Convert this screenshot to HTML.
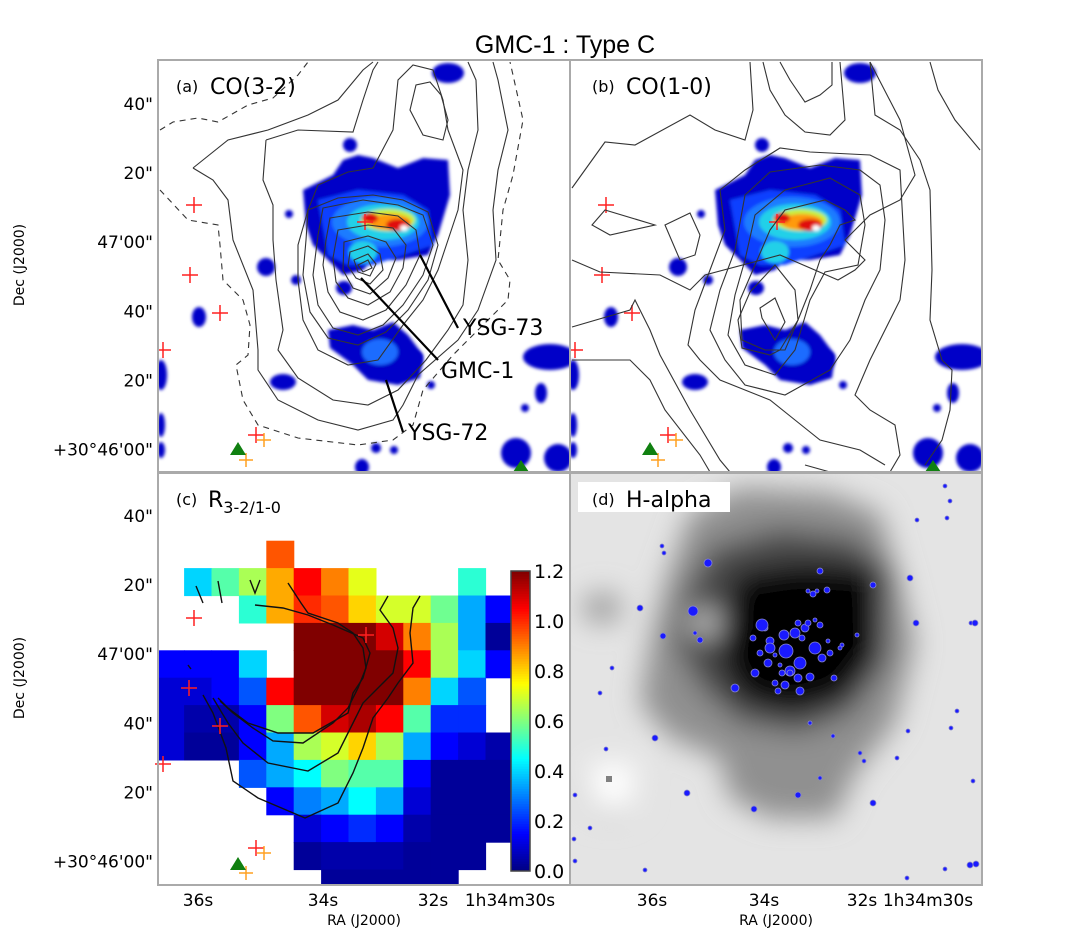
<!DOCTYPE html>
<html><head><meta charset="utf-8"><style>
html,body{margin:0;padding:0;background:#fff;}
svg{display:block;font-family:"DejaVu Sans","Liberation Sans",sans-serif;}
</style></head><body>
<svg id="fig" width="1066" height="939" viewBox="0 0 1066 939" xmlns="http://www.w3.org/2000/svg">
<defs>
 <filter id="bl" x="-20%" y="-20%" width="140%" height="140%"><feGaussianBlur stdDeviation="1.5"/></filter>
 <filter id="bl2" x="-30%" y="-30%" width="160%" height="160%"><feGaussianBlur stdDeviation="14"/></filter>
 <clipPath id="clipA"><rect x="0" y="0" width="412" height="412"/></clipPath>
 <g id="blobs">
  <g filter="url(#bl)">
   <path d="M145,130 L165,120 L175,115 L185,100 L200,95 L215,98 L240,108 L265,98 L290,100 L292,135 L280,175 L270,195 L240,200 L215,200 L205,210 L185,215 L170,200 L155,185 L148,165 Z" fill="#0000c8"/>
   <path d="M160,140 L200,130 L245,135 L270,150 L275,185 L245,195 L215,205 L190,205 L170,195 Z" fill="#1040ff"/>
   <ellipse cx="222" cy="162" rx="48" ry="25" fill="#1e7cff"/>
   <ellipse cx="225" cy="162" rx="36" ry="18" fill="#22d0e8"/>
   <ellipse cx="230" cy="160" rx="27" ry="11" fill="#c8f040"/>
   <ellipse cx="232" cy="162" rx="21" ry="8" fill="#ff9a10"/>
   <ellipse cx="240" cy="165" rx="12" ry="6" fill="#e01010"/>
   <ellipse cx="246" cy="168" rx="4" ry="3" fill="#fff"/>
   <ellipse cx="212" cy="158" rx="8" ry="5" fill="#e01010"/>
   <ellipse cx="205" cy="192" rx="14" ry="11" fill="#22d0e8"/>
   <path d="M170,270 L195,265 L215,270 L235,262 L250,275 L265,295 L262,318 L240,325 L210,320 L195,305 L172,288 Z" fill="#0000c8"/>
   <ellipse cx="222" cy="292" rx="18" ry="13" fill="#1e6cff"/>
  </g>
  <g fill="#0000c8" filter="url(#bl)">
   <circle cx="192" cy="85" r="7"/><circle cx="108" cy="207" r="9"/><circle cx="138" cy="220" r="5"/><circle cx="131" cy="154" r="4"/>
   <ellipse cx="41" cy="257" rx="7" ry="10"/><ellipse cx="186" cy="228" rx="8" ry="7"/><ellipse cx="125" cy="322" rx="13" ry="8"/>
   <ellipse cx="392" cy="297" rx="27" ry="13"/><circle cx="367" cy="348" r="4"/><ellipse cx="383" cy="333" rx="6" ry="10"/><circle cx="273" cy="325" r="4"/>
   <ellipse cx="358" cy="393" rx="15" ry="15"/><ellipse cx="400" cy="398" rx="14" ry="14"/><circle cx="218" cy="388" r="5"/><circle cx="236" cy="390" r="4"/>
   <ellipse cx="204" cy="407" rx="7" ry="8"/><ellipse cx="290" cy="13" rx="16" ry="10"/><ellipse cx="3" cy="315" rx="6" ry="15"/>
   <ellipse cx="3" cy="365" rx="4" ry="12"/><ellipse cx="3" cy="390" rx="4" ry="8"/><circle cx="255" cy="300" r="10"/>
  </g>
  <g stroke="#ff2020" stroke-width="1.5"><path d="M28,145h16M36,137v16M24,215h16M32,207v16M54,253h16M62,245v16M-3,290h16M5,282v16M90,375h16M98,367v16M199,162h16M207,154v16"/></g>
  <g stroke="#ffa020" stroke-width="1.5"><path d="M99,380h14M106,373v14M81,400h14M88,393v14"/></g>
  <path d="M72,395 L80,382 L88,395 Z" fill="#108010"/><path d="M355,412 L363,400 L371,412 Z" fill="#108010"/>
 </g>
</defs>

<text x="565" y="53" font-size="25" text-anchor="middle" font-family="Liberation Sans, sans-serif">GMC-1 : Type C</text>

<!-- Panel A -->
<g transform="translate(158,60)">
 <g clip-path="url(#clipA)">
  <use href="#blobs"/>
  <g fill="none" stroke="#333" stroke-width="1.1">
   <path d="M2,70 L15,62 L40,58 L60,62 L90,45 L115,38 L140,15 L150,2" stroke-dasharray="6,5"/>
   <path d="M2,130 L30,160 L60,165 L62,185 L65,220 L85,240 L92,265 L90,295 L78,305 L85,340 L100,365 L140,378 L200,385 L235,380 L255,365 L265,330 L295,295 L315,275 L350,240 L352,220 L340,200 L345,150 L355,115 L365,60 L355,15 L352,2" stroke-dasharray="6,5"/>
   <path d="M35,108 L70,80 L110,70 L150,55 L180,40 L205,10 L215,2"/>
   <path d="M35,108 L55,120 L70,140 L75,180 L95,230 L100,290 L100,310 L120,340 L160,360 L200,370 L235,360 L245,345 L260,315 L300,280 L320,250 L338,200 L335,150 L340,110 L350,70 L340,20 L335,2"/>
   <path d="M108,80 L140,70 L195,72 L205,40 L215,10 L220,2 M108,80 L105,120 L115,145 L115,180 L118,220 L125,270 L120,290 L140,318 L175,340 L210,345 L240,330 L268,300 L290,270 L305,245 L310,200 L305,150 L310,110 L320,70 L318,20 L310,2"/>
   <path d="M235,70 L240,20 L255,5 L275,10 L285,40 L290,70 L305,110 L300,150 L290,180 L280,210 L265,240 L245,265 L220,300 L190,305 L160,290 L145,260 L140,220 L140,185 L150,150 L160,125 L190,112 L215,108 L235,70 Z"/>
   <path d="M252,50 L258,25 L272,22 L283,35 L290,60 L285,80 L265,75 Z"/>
   <path d="M150,150 L180,138 L215,135 L245,140 L270,152 L280,185 L270,220 L250,250 L228,272 L200,285 L170,278 L152,252 L145,215 L148,180 Z"/>
   <path d="M165,148 L205,140 L240,145 L265,155 L275,185 L265,215 L245,245 L225,265 L200,275 L175,268 L160,245 L155,215 L160,175 Z"/>
   <path d="M172,158 L210,152 L240,156 L258,170 L262,195 L248,225 L228,250 L205,260 L182,252 L170,232 L165,205 L168,180 Z"/>
   <path d="M180,170 L210,165 L235,168 L248,185 L245,208 L232,232 L210,245 L190,238 L178,222 L175,198 Z"/>
   <path d="M186,182 L210,176 L228,182 L238,198 L230,218 L212,234 L195,228 L185,210 Z"/>
   <path d="M192,192 L210,186 L222,194 L225,210 L212,224 L198,218 L190,206 Z"/>
   <path d="M196,200 L210,194 L218,204 L212,216 L200,212 Z"/>
   <path d="M200,205 L210,200 L214,208 L205,212 Z"/>
  </g>
  <g stroke="#000" stroke-width="2.2"><path d="M262,195 L300,268 M203,218 L280,300 M228,320 L245,372"/></g>
  <text x="305" y="275" font-size="22">YSG-73</text>
  <text x="283" y="318" font-size="22">GMC-1</text>
  <text x="250" y="380" font-size="22">YSG-72</text>
 </g>
 <text x="18" y="32" font-size="16">(a)</text>
 <text x="52" y="34" font-size="22">CO(3-2)</text>
 <rect x="0" y="0" width="412" height="412" fill="none" stroke="#aaa" stroke-width="2"/>
</g>

<!-- Panel B -->
<g transform="translate(570,60)">
 <g clip-path="url(#clipA)">
  <use href="#blobs"/>
  <g fill="none" stroke="#333" stroke-width="1.1">
   <path d="M2,128 L35,82 L65,85 L120,55 L145,70 L175,80 L183,50 L180,2"/>
   <path d="M2,200 L30,212 L90,215 L120,230 L135,215 L210,195 L268,220 L285,210 L295,200 L275,180 L300,155 L330,140 L345,115 L330,60 L300,2"/>
   <path d="M193,2 L200,30 L215,55 L235,72 L260,75 L275,60 L270,2"/>
   <path d="M210,2 L220,20 L235,42 L250,35 L262,25 L262,2"/>
   <path d="M22,165 L35,150 L85,165 L40,175 Z"/>
   <path d="M95,165 L120,153 L130,175 L125,195 L110,200 Z"/>
   <path d="M2,267 L60,250 L65,240 L80,270 L90,295 L120,350 L150,400 L160,412"/>
   <path d="M2,300 L60,300 L80,320 L95,350 L130,395 L140,412"/>
   <path d="M150,130 L175,110 L210,88 L240,92 L300,95 L330,110 L335,200 L330,240 L300,300 L285,335 L300,350 L325,365 L330,395 L320,412"/>
   <path d="M150,130 L155,170 L140,210 L125,250 L118,285 L130,300 L150,320 L175,330 L200,340 L225,360 L250,380 L290,390 L315,405"/>
   <path d="M175,135 L200,112 L250,105 L290,110 L310,125 L315,160 L310,210 L295,240 L280,280 L260,310 L215,335 L175,325 L155,300 L140,270 L150,230 L165,190 Z"/>
   <path d="M185,155 L215,130 L260,118 L290,135 L295,165 L288,205 L255,212 L240,240 L225,290 L205,315 L175,305 L158,275 L165,235 L175,200 Z"/>
   <path d="M200,170 L215,150 L255,140 L275,150 L285,160 L270,165 L260,185 L250,200 L240,230 L228,260 L215,290 L195,290 L172,280 L170,240 L185,205 Z"/>
   <path d="M190,248 L205,238 L215,262 L205,280 L192,258 Z"/>
   <path d="M205,205 L225,230 L228,260 L210,290 L200,295 L172,288 L168,260 L180,232 Z"/>
   <path d="M235,405 L260,412 M360,2 L368,30 L385,60 L410,90"/>
   <path d="M300,2 L305,55 L330,70 L350,100 L360,130 L362,210 L360,260 L372,300 L382,310 L380,350 L372,380 L355,405"/>
  </g>
 </g>
 <text x="22" y="32" font-size="16">(b)</text>
 <text x="56" y="34" font-size="22">CO(1-0)</text>
 <rect x="0" y="0" width="412" height="412" fill="none" stroke="#aaa" stroke-width="2"/>
</g>

<!-- Panel C -->
<g transform="translate(158,473)">
 <g id="cells" clip-path="url(#clipA)"></g>
 <g clip-path="url(#clipA)" fill="none" stroke="#111" stroke-width="1.4">
  <path d="M38,113 L45,130 M60,108 L64,130 M92,107 L97,120 L102,107 M97,132 L125,135 L150,142 L175,152 L205,165 L212,180 L205,205 L195,220 L190,240 L155,260 L120,260 L90,250 L70,235 L60,225"/>
  <path d="M130,110 L143,130 L150,140 L180,150 L195,160 L205,175 L208,195 L200,215 L190,235 L175,250 L145,270 L115,268 L95,255 L75,240 L62,228"/>
  <path d="M230,123 L222,137 L235,155 L240,175 L235,200 L220,215 L205,230 L195,250 L180,280 L150,298 L110,290 L85,270 L70,250 L55,225"/>
  <path d="M262,123 L255,135 L252,160 L255,190 L240,210 L230,225 L215,245 L205,275 L195,300 L180,330 L147,345 L100,325 L75,308 L68,275 L55,240 L45,222"/>
  <path d="M30,192 L33,196"/>
 </g>
 <g stroke="#ff2020" stroke-width="1.5"><path d="M28,145h16M36,137v16M23,215h16M31,207v16M54,253h16M62,245v16M-3,291h16M5,283v16M90,375h16M98,367v16M200,162h16M208,154v16"/></g>
 <g stroke="#ffa020" stroke-width="1.5"><path d="M99,380h14M106,373v14M81,400h14M88,393v14"/></g>
 <path d="M72,397 L80,384 L88,397 Z" fill="#108010"/>
 <g id="cbar"></g>
 <text x="18" y="32" font-size="16">(c)</text>
 <text x="50" y="34" font-size="22">R<tspan font-size="16" dy="6">3-2/1-0</tspan></text>
 <rect x="0" y="0" width="412" height="412" fill="none" stroke="#aaa" stroke-width="2"/>
</g>

<!-- Panel D -->
<g transform="translate(570,473)">
 <g clip-path="url(#clipA)">
  <rect x="0" y="0" width="412" height="412" fill="#e4e4e4"/>
  <g filter="url(#bl2)">
   <ellipse cx="40" cy="320" rx="30" ry="25" fill="#c8c8c8"/>
   <ellipse cx="32" cy="135" rx="20" ry="15" fill="#9a9a9a"/>
   <path d="M120,40 L170,15 L260,20 L310,40 L330,110 L345,170 L325,250 L285,300 L265,345 L200,345 L160,325 L150,285 L100,265 L70,230 L80,170 L95,110 Z" fill="#909090"/>
   <path d="M140,75 L210,55 L285,65 L320,100 L315,190 L280,240 L230,260 L170,250 L130,215 L105,170 L115,120 Z" fill="#4a4a4a"/>
   <path d="M165,100 L230,90 L305,95 L310,180 L275,225 L220,240 L170,225 L150,185 Z" fill="#000"/>
   <ellipse cx="135" cy="150" rx="15" ry="14" fill="#c8c8c8"/>
   <rect x="20" y="290" width="45" height="45" fill="#ffffff"/>
  </g>
  <rect x="36" y="303" width="6" height="6" fill="#808080"/>
  <g id="stars"></g>
 </g>
 <rect x="8" y="9" width="152" height="30" fill="#fff"/>
 <text x="22" y="32" font-size="16">(d)</text>
 <text x="56" y="34" font-size="22">H-alpha</text>
 <rect x="0" y="0" width="412" height="412" fill="none" stroke="#aaa" stroke-width="2"/>
</g>

<g id="axes" font-size="17" fill="#000"></g>
<text transform="translate(24,265) rotate(-90)" font-size="14" text-anchor="middle">Dec (J2000)</text>
<text transform="translate(24,678) rotate(-90)" font-size="14" text-anchor="middle">Dec (J2000)</text>
<text x="364" y="925" font-size="14" text-anchor="middle">RA (J2000)</text>
<text x="776" y="925" font-size="14" text-anchor="middle">RA (J2000)</text>

<script>
const NS="http://www.w3.org/2000/svg";
// Ratio grid data (rows top->bottom, cols left->right); null = no data
const ratioRow0=[null,null,null,null,0.95,null,null,null,null,null,null,null,null];
const ratioRow1=[null,0.40,0.55,0.65,0.85,1.05,0.90,0.72,null,null,null,0.50,null];
const ratioRow2=[null,null,null,0.50,0.85,1.00,0.95,0.80,0.70,0.70,0.58,0.35,0.15];
const ratioRow3=[null,null,null,null,null,1.20,1.20,1.20,1.10,0.90,0.65,0.35,0.03];
const ratioRow4=[0.15,0.15,0.15,0.40,null,1.20,1.20,1.20,1.20,1.05,0.65,0.40,0.15];
const ratioRow5=[0.10,0.10,0.15,0.25,1.05,1.20,1.20,1.20,1.20,0.90,0.40,0.25,null];
const ratioRow6=[0.10,0.05,0.05,0.15,0.60,0.95,1.10,1.15,1.05,0.55,0.20,0.20,null];
const ratioRow7=[0.10,0.03,0.03,0.15,0.35,0.65,0.70,0.80,0.65,0.35,0.15,0.10,0.05];
const ratioRow8=[null,null,null,0.25,0.35,0.45,0.60,0.55,0.55,0.15,0.03,0.03,0.03];
const ratioRow9=[null,null,null,null,0.15,0.30,0.35,0.45,0.35,0.10,0.03,0.03,0.03];
const ratioRow10=[null,null,null,null,null,0.10,0.15,0.20,0.15,0.05,0.03,0.03,0.03];
const ratioRow11=[null,null,null,null,null,0.03,0.05,0.05,0.05,0.03,0.03,0.03,null];
const ratioRow12=[null,null,null,null,null,null,0.03,0.03,0.03,0.03,0.03,null,null];
const colorbarTicks=["0.0","0.2","0.4","0.6","0.8","1.0","1.2"];
const decTicksTop=['40"','20"',"47'00\"",'40"','20"',"+30°46'00\""];
const raTicks=["36s","34s","32s","1h34m30s"];
const vmax=1.2;

const rows=[ratioRow0,ratioRow1,ratioRow2,ratioRow3,ratioRow4,ratioRow5,ratioRow6,ratioRow7,ratioRow8,ratioRow9,ratioRow10,ratioRow11,ratioRow12];
const cellW=27.4, cellH=27.4, gx0=-1.3, gy0=67.7;
function xCol(i){return gx0+i*cellW;}
function yRow(j){return gy0+j*cellH;}
function cl(v){return Math.max(0,Math.min(1,v));}
function jet(v){const t=cl(v/vmax);const r=cl(1.5-Math.abs(4*t-3)),g=cl(1.5-Math.abs(4*t-2)),b=cl(1.5-Math.abs(4*t-1));
 return "rgb("+Math.round(r*255)+","+Math.round(g*255)+","+Math.round(b*255)+")";}
const cells=document.getElementById("cells");
rows.forEach((row,j)=>row.forEach((v,i)=>{if(v===null)return;
 const r=document.createElementNS(NS,"rect");
 r.setAttribute("x",xCol(i));r.setAttribute("y",yRow(j));r.setAttribute("width",cellW+0.6);r.setAttribute("height",cellH+0.6);
 r.setAttribute("fill",jet(v));
 
 
 cells.appendChild(r);}));
// colorbar
const cb=document.getElementById("cbar");
const cbX=353,cbW=19,cbTop=98,cbBot=398;
function yCb(v){return cbBot-(v/vmax)*(cbBot-cbTop);}
for(let k=0;k<120;k++){const v=vmax*(k+0.5)/120;const r=document.createElementNS(NS,"rect");
 r.setAttribute("x",cbX);r.setAttribute("y",yCb(vmax*(k+1)/120));r.setAttribute("width",cbW);r.setAttribute("height",(cbBot-cbTop)/120+0.5);r.setAttribute("fill",jet(v));cb.appendChild(r);}
const fr=document.createElementNS(NS,"rect");fr.setAttribute("x",cbX);fr.setAttribute("y",cbTop);fr.setAttribute("width",cbW);fr.setAttribute("height",cbBot-cbTop);fr.setAttribute("fill","none");fr.setAttribute("stroke","#444");fr.setAttribute("stroke-width","1.5");cb.appendChild(fr);
colorbarTicks.forEach(s=>{const v=parseFloat(s);const t=document.createElementNS(NS,"text");
 t.setAttribute("x",cbX+cbW+4);t.setAttribute("y",yCb(v)+7);t.setAttribute("font-size","19");t.textContent=s;
 
 
 cb.appendChild(t);});
// axes labels
const ax=document.getElementById("axes");
function addText(x,y,s,anchor,name){const t=document.createElementNS(NS,"text");t.setAttribute("x",x);t.setAttribute("y",y);t.setAttribute("text-anchor",anchor);t.textContent=s;
 
 
 ax.appendChild(t);}
const decSpacing=69.1;
decTicksTop.forEach((s,k)=>{addText(153,104+k*decSpacing+6,s,"end","dec-tick-label");addText(153,516+k*decSpacing+6,s,"end","dec-tick-label");});
const raPosC=[198,323,433,510], raPosD=[652,764,862,928];
raTicks.forEach((s,k)=>{addText(raPosC[k],906,s,"middle","ra-tick-label");addText(raPosD[k],906,s,"middle","ra-tick-label");});
// stars in H-alpha
const starX=[70,130,92,94,30,138,123,214,165,200,195,228,216,230,220,240,230,215,205,210,250,243,238,257,272,258,264,232,220,208,270,287,303,250,245,240,263,294,340,347,377,401,405,346,387,381,403,338,42,20,36,5,93,125,85,117,184,250,228,290,303,327,375,400,4,5,75,406,337,40,375,380,192,200,185,225,235,245,252,260,205,212,198,228,238,183,190,247];
const starY=[135,167,73,80,220,90,138,162,215,168,155,150,178,190,198,204,218,212,182,192,152,121,118,117,172,168,205,165,200,218,175,162,112,98,147,250,263,288,105,47,45,150,150,150,238,255,308,258,195,355,276,322,163,160,265,320,336,305,322,280,330,285,396,392,366,388,397,391,405,28,13,28,152,175,200,160,155,175,185,180,210,200,190,205,150,165,180,118];
const starR=[3,3,2,2,2,4,5,5,4,4,3,3,7,6,5,4,4,4,2,2,3,3,2,3,2,2,3,3,3,3,2,2,3,3,2,2,2,2,3,2,2,2,3,3,2,2,2,2,2,2,2,2,3,2,3,3,3,2,3,2,3,2,2,3,2,2,2,3,2,2,2,2,6,5,4,5,4,6,4,3,3,3,4,4,3,3,3,2];
const stars=document.getElementById("stars");
starX.forEach((x,k)=>{const c=document.createElementNS(NS,"circle");c.setAttribute("cx",x);c.setAttribute("cy",starY[k]);c.setAttribute("r",starR[k]);
 c.setAttribute("fill","#1a1aff");c.setAttribute("stroke","#8888cc");c.setAttribute("stroke-width","0.8");
 
 
 stars.appendChild(c);});
</script>
</svg>
</body></html>
